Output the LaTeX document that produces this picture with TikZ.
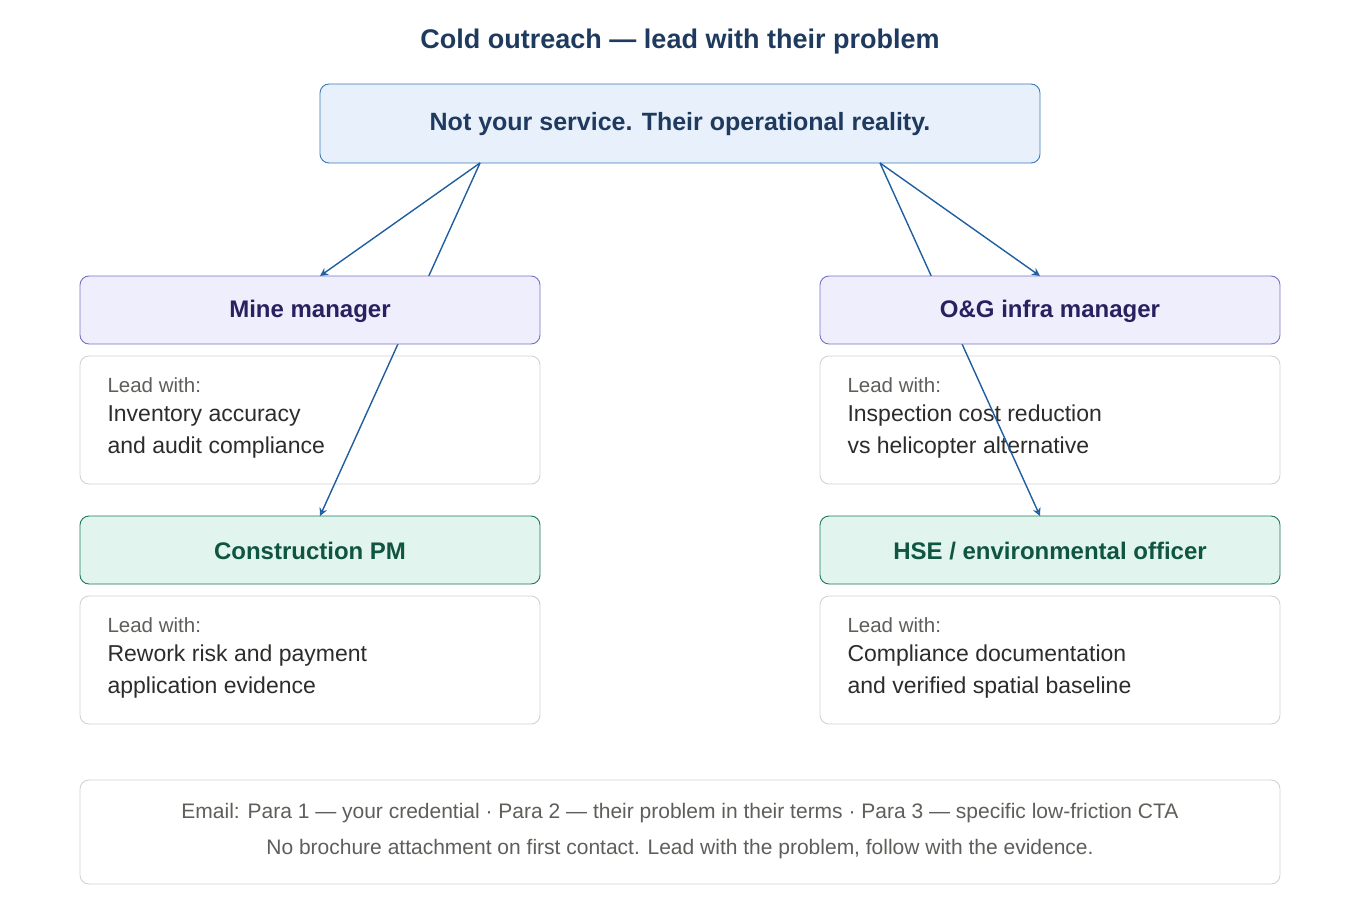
\documentclass[tikz,border=0pt]{standalone}
\usepackage{fontspec}
\setmainfont{Liberation Sans}
\usetikzlibrary{arrows.meta}
\definecolor{topfill}{HTML}{E8F0FB}\definecolor{topdraw}{HTML}{3B7BB8}\definecolor{toptext}{HTML}{1F3A5F}
\definecolor{pfill}{HTML}{EEEEFC}\definecolor{pdraw}{HTML}{7B6FC8}\definecolor{ptext}{HTML}{2A2060}
\definecolor{gfill}{HTML}{E1F5EE}\definecolor{gdraw}{HTML}{1D7A5A}\definecolor{gtext}{HTML}{0F5540}
\definecolor{arr}{HTML}{1F5FA0}\definecolor{lbox}{HTML}{D3D3D3}\definecolor{gray1}{HTML}{5F5E5A}\definecolor{body}{HTML}{2C2C2A}
\tikzset{
 box/.style={rounded corners=9pt,line width=0.9pt},
 rolep/.style={box,fill=pfill,draw=pdraw},
 roleg/.style={box,fill=gfill,draw=gdraw},
 leadbox/.style={box,fill=white,draw=lbox},
 con/.style={draw=arr,line width=1.4pt,-{Stealth[open,length=8pt,width=8pt]}},
 rtxt/.style={font=\fontsize{24}{28}\selectfont\bfseries},
}
\begin{document}
\begin{tikzpicture}[x=1pt,y=-1pt]
\useasboundingbox (0,0) rectangle (1360,920);
\node[font=\fontsize{27}{30}\selectfont\bfseries,text=toptext] (title) at (680,42) {Cold outreach — lead with their problem};
\draw[box,fill=topfill,draw=topdraw] (320,84) rectangle (1040,163);
\node[font=\fontsize{25}{28}\selectfont\bfseries,text=toptext] (top) at (680,124) {Not your service. Their operational reality.};
% lead boxes
\foreach \x/\y/\a/\b [count=\i] in {80/356/Inventory accuracy/and audit compliance,820/356/Inspection cost reduction/vs helicopter alternative,80/596/Rework risk and payment/application evidence,820/596/Compliance documentation/and verified spatial baseline}{
 \draw[leadbox] (\x,\y) rectangle ++(460,128);
 \node[anchor=west,text=gray1,font=\fontsize{20.5}{24}\selectfont] (lw\i) at (\x+24,\y+29) {Lead with:};
 \node[anchor=west,text=body,font=\fontsize{23}{27}\selectfont] (la\i) at (\x+24,\y+60) {\a};
 \node[anchor=west,text=body,font=\fontsize{23}{27}\selectfont] (lb\i) at (\x+24,\y+92) {\b};
}
\coordinate (tl) at (480,163); \coordinate (tr) at (880,163);
\coordinate (mm) at (320,276); \coordinate (og) at (1040,276);
\coordinate (cp) at (320,516); \coordinate (hs) at (1040,516);
\draw[con] (tl) -- (mm);
\draw[con] (tl) -- (cp);
\draw[con] (tr) -- (og);
\draw[con] (tr) -- (hs);
\draw[rolep] (80,276) rectangle (540,344);
\node[rtxt,text=ptext] (m) at (310,311) {Mine manager};
\draw[rolep] (820,276) rectangle (1280,344);
\node[rtxt,text=ptext] (o) at (1050,311) {O\&G infra manager};
\draw[roleg] (80,516) rectangle (540,584);
\node[rtxt,text=gtext] (c) at (310,551) {Construction PM};
\draw[roleg] (820,516) rectangle (1280,584);
\node[rtxt,text=gtext] (h) at (1050,551) {HSE / environmental officer};
\draw[leadbox] (80,780) rectangle (1280,884);
\node[text=gray1,font=\fontsize{21}{24}\selectfont] (f1) at (680,813) {Email: Para 1 — your credential · Para 2 — their problem in their terms · Para 3 — specific low-friction CTA};
\node[text=gray1,font=\fontsize{21}{24}\selectfont] (f2) at (680,849) {No brochure attachment on first contact. Lead with the problem, follow with the evidence.};
\end{tikzpicture}
\end{document}
